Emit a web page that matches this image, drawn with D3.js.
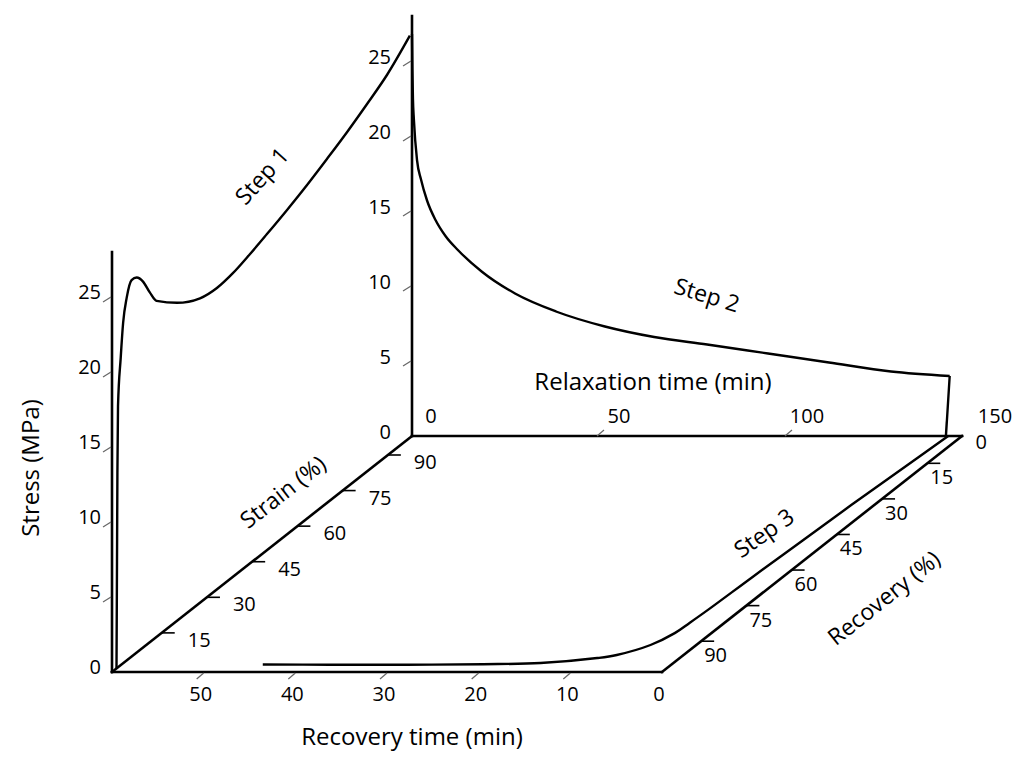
<!DOCTYPE html>
<html><head><meta charset="utf-8">
<script src="https://cdn.jsdelivr.net/npm/d3@7"></script>
<style>
body{margin:0;background:#fff}
text{font-family:"Open Sans",Lato,sans-serif;fill:#000}
</style>
</head><body>
<svg id="c" width="1024" height="766"></svg>
<script>
// ---------- data ----------
const step1Strain = [0, 0.1, 0.2, 0.3, 0.5, 1.4, 2.2, 3.4, 5.0, 6.7, 8.8, 11.1, 13.3, 20.1, 27.7, 33.3, 38.6, 44.3, 49.9, 56.5, 63.2, 69.8, 76.5, 83.1, 89.7, 97.3];
const step1Stress = [0, 4.2, 8.6, 13.0, 17.4, 20.5, 22.7, 24.2, 25.1, 25.0, 24.4, 23.3, 22.4, 21.2, 20.3, 20.1, 20.25, 20.63, 21.07, 21.62, 22.24, 22.93, 23.67, 24.49, 25.38, 26.8];

const step2Time = [0, 0.1, 0.25, 0.5, 1.33, 2.4, 4.0, 6.25, 9.0, 12.2, 18.6, 27.4, 38.3, 51.3, 64.4, 78.5, 94.7, 110.9, 127.4, 143, 142];
const step2Stress = [26.8, 24.5, 22.5, 21.1, 18.4, 17.1, 15.7, 14.4, 13.3, 12.4, 10.95, 9.5, 8.3, 7.3, 6.6, 6.1, 5.5, 4.9, 4.3, 4.0, 0];

const step3Time = [1.5, 2.0, 2.5, 2.9, 3.3, 3.6, 3.8, 4.0, 5.0, 7.3, 9.0, 14.5, 20.6, 28.9, 37.3, 44.6];
const step3Recovery = [3.5, 17.8, 32.5, 47.4, 62.9, 76.8, 82.3, 86.6, 91.6, 95.8, 97.1, 99.2, 99.7, 99.9, 99.9, 99.8];

const stressTicks = [0, 5, 10, 15, 20, 25];
const strainTicks = [15, 30, 45, 60, 75, 90];
const relaxTicks = [0, 50, 100, 150];
const recTimeTicks = [0, 10, 20, 30, 40, 50];
const recoveryTicks = [0, 15, 30, 45, 60, 75, 90];

// ---------- geometry ----------
const svg = d3.select("#c");
const origin = [112, 672];
const depthVec = [300, -236];
const stressMax = 28;
const stressY = d3.scaleLinear([0, 25], [0, 375]);
const strainDepth = d3.scaleLinear([0, 100], [0.015, 1.02]);
const recoveryDepth = d3.scaleLinear([0, 100], [1.035, 0.03]);
const relaxX = d3.scaleLinear([0, 150], [112, 676]);
const recTimeX = d3.scaleLinear([60, 0], [112, 662]);

function proj(fx, dz, s) {
  return [fx + dz * depthVec[0], origin[1] + dz * depthVec[1] - stressY(s)];
}

const x0 = recTimeX(60), x1 = recTimeX(0);
const edges = [
  [proj(x0, 0, 0), proj(x0, 0, stressMax)],
  [proj(x0, 0, 0), proj(x0, 1, 0)],
  [proj(x0, 1, 0), proj(x0, 1, stressMax)],
  [proj(x0, 1, 0), proj(x1, 1, 0)],
  [proj(x0, 0, 0), proj(x1, 0, 0)],
  [proj(x1, 0, 0), proj(x1, 1, 0)]
];
const axisG = svg.append("g");
edges.forEach(e => axisG.append("line")
  .attr("x1", e[0][0]).attr("y1", e[0][1]).attr("x2", e[1][0]).attr("y2", e[1][1])
  .attr("stroke", "#000").attr("stroke-width", 2.6).attr("stroke-linecap", "square"));

const fs = 20;
function label(x, y, t, anchor, size) {
  return svg.append("text").attr("x", x).attr("y", y).attr("text-anchor", anchor || "middle")
    .attr("font-size", size || fs).text(t);
}
function tick(a, b, col, w) {
  svg.append("line").attr("x1", a[0]).attr("y1", a[1]).attr("x2", b[0]).attr("y2", b[1])
    .attr("stroke", col).attr("stroke-width", w);
}

// front stress axis
stressTicks.forEach(s => {
  const p = proj(x0, 0, s);
  if (s > 0) tick([p[0] - 1, p[1]], [p[0] - 9, p[1] + 5], "#666", 1.2);
  label(p[0] - 11, p[1] + 2, s, "end");
});
// back stress axis
stressTicks.forEach(s => {
  const p = proj(x0, 1, s);
  if (s > 0) tick([p[0] - 1, p[1]], [p[0] - 9, p[1] + 5], "#666", 1.2);
  label(p[0] - 21, p[1] + 3, s, "end");
});
// strain ticks
strainTicks.forEach(v => {
  const p = proj(x0, strainDepth(v), 0);
  tick(p, [p[0] + 13, p[1]], "#000", 1.6);
  label(p[0] + 26, p[1] + 14, v, "start");
});
// recovery ticks
recoveryTicks.forEach(v => {
  const p = proj(x1, recoveryDepth(v), 0);
  if (v > 0) tick(p, [p[0] + 13, p[1]], "#000", 1.6);
  label(p[0] + 3, p[1] + 21, v, "start");
});
// relaxation time ticks
relaxTicks.forEach(t => {
  const p = proj(relaxX(t), 1, 0);
  if (t > 0 && t < 150) tick([p[0] - 3, p[1]], [p[0] + 4, p[1] - 6], "#666", 1.2);
  label(p[0] + 19, p[1] - 13, t, "middle");
});
// recovery time ticks
recTimeTicks.forEach(t => {
  const p = proj(recTimeX(t), 0, 0);
  if (t > 0) tick([p[0], p[1] + 1], [p[0] - 7, p[1] + 7], "#666", 1.2);
  label(p[0] - 3, p[1] + 29, t, "middle");
});

// ---------- curves ----------
const smooth = d3.line().curve(d3.curveMonotoneX);
const cr = d3.line().curve(d3.curveCatmullRom.alpha(0.5));
const c1 = step1Strain.map((s, i) => proj(x0, strainDepth(s), step1Stress[i]));
const c2 = step2Time.map((t, i) => proj(relaxX(t), 1, step2Stress[i]));
const c3 = step3Time.map((t, i) => proj(recTimeX(t), recoveryDepth(step3Recovery[i]), 0));
const curveStyle = p => p.attr("fill", "none").attr("stroke", "#000").attr("stroke-width", 2.4)
  .attr("stroke-linejoin", "round");
svg.append("path").attr("d", smooth(c1)).call(curveStyle);
svg.append("path").attr("d", smooth(c2.slice(0, -1))).call(curveStyle);
svg.append("path").attr("d", d3.line()(c2.slice(-2))).call(curveStyle);
svg.append("path").attr("d", cr(c3)).call(curveStyle);

// ---------- titles ----------
function rlabel(x, y, ang, t, size) {
  svg.append("text").attr("transform", `translate(${x},${y}) rotate(${ang})`)
    .attr("text-anchor", "middle").attr("dy", "0.35em").attr("font-size", size || 24).text(t);
}
rlabel(31, 468, -90, "Stress (MPa)");
rlabel(283, 492, -38, "Strain (%)", 23);
rlabel(884, 598, -38.5, "Recovery (%)", 23);
rlabel(262, 176, -48, "Step 1", 23);
rlabel(707, 295, 17, "Step 2", 23);
rlabel(764, 533, -35, "Step 3", 23);
rlabel(653, 382, 0, "Relaxation time (min)");
rlabel(412, 737, 0, "Recovery time (min)");
</script>
</body></html>
